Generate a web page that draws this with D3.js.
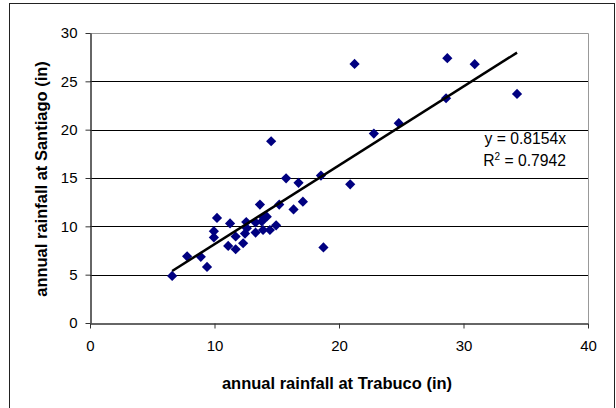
<!DOCTYPE html>
<html>
<head>
<meta charset="utf-8">
<title></title>
<style>
  body { margin: 0; background: #fff; }
  text { font-family: "Liberation Sans", Arial, sans-serif; }
</style>
</head>
<body>
<script src="https://d3js.org/d3.v7.min.js"></script>
<script>
// annual rainfall, inches
var trabuco = [6.6, 7.8, 8.9, 9.4, 9.95, 9.95, 10.2, 11.1, 11.25, 11.7,
               11.7, 12.3, 12.45, 12.55, 12.6, 13.3, 13.3, 13.65, 13.8, 13.9,
               13.95, 14.2, 14.45, 14.55, 14.95, 15.2, 15.75, 16.35, 16.75, 17.1,
               18.55, 18.75, 20.9, 21.25, 22.8, 24.8, 28.6, 28.7, 30.9, 34.3];
var santiago = [4.87, 6.9, 6.85, 5.8, 9.5, 8.85, 10.87, 7.97, 10.3, 7.63,
                8.95, 8.25, 9.25, 10.45, 9.8, 9.35, 10.4, 12.25, 10.5, 9.62,
                10.9, 11.0, 9.62, 18.8, 10.1, 12.25, 14.97, 11.75, 14.5, 12.55,
                15.25, 7.82, 14.35, 26.8, 19.6, 20.67, 23.25, 27.4, 26.78, 23.7];
var xTicks = [0, 10, 20, 30, 40];
var yTicks = [0, 5, 10, 15, 20, 25, 30];
var slope = 0.8154;
var eqLines = ["y = 0.8154x", "R\u00b2 = 0.7942"];

var W = 616, H = 408;
var margin = {top: 33, right: 28, bottom: 85, left: 90},
    width  = W - margin.left - margin.right,
    height = H - margin.top - margin.bottom;

var svg = d3.select("body").append("svg")
    .attr("width", W)
    .attr("height", H);

// chart area border
svg.append("rect")
    .attr("x", 9.5).attr("y", 3.5)
    .attr("width", 605).attr("height", 420)
    .style("fill", "none").style("stroke", "#222").style("stroke-width", 1);

var x = d3.scaleLinear().domain([0, 40]).range([0, width]);
var y = d3.scaleLinear().domain([0, 30]).range([height, 0]);

var chart = svg.append("g")
    .attr("transform", "translate(" + margin.left + "," + margin.top + ")");

// gridlines
chart.selectAll(".grid")
    .data(yTicks.filter(function(d){ return d > 0 && d < 30; }))
    .enter().append("line")
    .attr("x1", 0).attr("x2", width)
    .attr("y1", function(d){ return Math.round(y(d)) + 0.5; })
    .attr("y2", function(d){ return Math.round(y(d)) + 0.5; })
    .style("stroke", "#000").style("stroke-width", 1);

// plot area top / right edges
chart.append("path")
    .attr("d", "M0," + (y(30)+0.5) + "H" + (width+0.5) + "V" + height)
    .style("fill", "none").style("stroke", "#999").style("stroke-width", 1);

var xAxis = chart.append("g")
    .attr("transform", "translate(0," + (height + 0.5) + ")")
    .call(d3.axisBottom(x).tickValues(xTicks).tickSize(5).tickSizeOuter(0).tickPadding(12));
var yAxis = chart.append("g")
    .attr("transform", "translate(0.5,0)")
    .call(d3.axisLeft(y).tickValues(yTicks).tickSize(5).tickSizeOuter(0).tickPadding(8));

[xAxis, yAxis].forEach(function(a) {
    a.select(".domain").style("stroke", "#333").style("stroke-width", 1.5);
    a.selectAll(".tick line").style("stroke", "#333");
    a.selectAll("text")
        .style("font-family", "'Liberation Sans', Arial, sans-serif")
        .style("font-size", "15px")
        .style("fill", "#000");
});

// points
var pts = trabuco.map(function(d, i){ return {x: d, y: santiago[i]}; });
chart.selectAll(".pt")
    .data(pts)
    .enter().append("path")
    .attr("class", "pt")
    .attr("d", d3.symbol().type(d3.symbolSquare).size(52))
    .attr("transform", function(d){
        return "translate(" + x(d.x) + "," + y(d.y) + ") rotate(45)";
    })
    .style("fill", "#000080");

// linear trend through origin
var xr = d3.extent(trabuco);
chart.append("line")
    .attr("x1", x(xr[0])).attr("y1", y(slope * xr[0]))
    .attr("x2", x(xr[1])).attr("y2", y(slope * xr[1]))
    .style("stroke", "#000").style("stroke-width", 2.5);

// equation
svg.append("text")
    .attr("x", 566).attr("y", 144)
    .style("text-anchor", "end").style("font-size", "15.7px")
    .text(eqLines[0]);
var r2 = svg.append("text")
    .attr("x", 566).attr("y", 166)
    .style("text-anchor", "end").style("font-size", "15.7px");
r2.append("tspan").text("R");
r2.append("tspan").attr("dy", -6).style("font-size", "10px").text("2");
r2.append("tspan").attr("dy", 6).text(" = 0.7942");

// axis titles
svg.append("text")
    .attr("x", 337).attr("y", 389)
    .style("text-anchor", "middle").style("font-size", "16.5px").style("font-weight", "bold")
    .text("annual rainfall at Trabuco (in)");
svg.append("text")
    .attr("transform", "translate(47,179) rotate(-90)")
    .style("text-anchor", "middle").style("font-size", "16.5px").style("font-weight", "bold")
    .text("annual rainfall at Santiago (in)");
</script>
</body>
</html>
